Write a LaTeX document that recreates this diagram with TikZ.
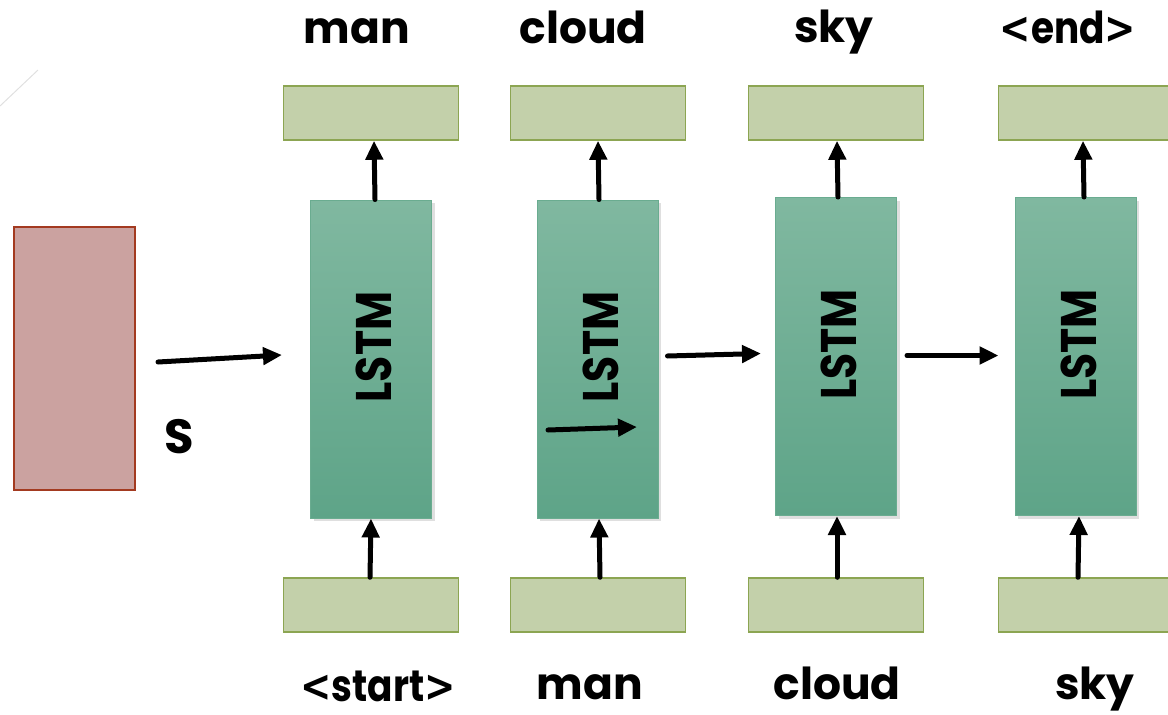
\documentclass[tikz,border=0pt]{standalone}
\usepackage{fontspec}
\setmainfont{Poppins}
\newfontfamily\anglefont{DejaVu Sans}
\usetikzlibrary{arrows.meta,shadows,calc}
\definecolor{lstmtop}{HTML}{80B8A0}
\definecolor{lstmbot}{HTML}{5EA488}
\definecolor{lstmedge}{HTML}{6AAC90}
\definecolor{wordfill}{HTML}{C3D0AA}
\definecolor{wordedge}{HTML}{8CA552}
\definecolor{imgfill}{HTML}{CBA2A0}
\definecolor{imgedge}{HTML}{A33A20}
% angle brackets in a font with plain < > glyphs
\newcommand{\langl}{{\anglefont\bfseries<}}
\newcommand{\rangl}{{\anglefont\bfseries>}}
\tikzset{
  lstm/.style={draw=lstmedge, line width=1pt, top color=lstmtop, bottom color=lstmbot,
    minimum width=121pt, minimum height=318pt, inner sep=0pt,
    drop shadow={shadow xshift=3pt, shadow yshift=-3pt, fill=black!25, opacity=0.5}},
  wordbox/.style={draw=wordedge, line width=1.5pt, fill=wordfill,
    minimum width=175pt, minimum height=54pt, inner sep=0pt},
  imgbox/.style={draw=imgedge, line width=1.5pt, fill=imgfill,
    minimum width=121pt, minimum height=263pt, inner sep=0pt},
  word/.style={font=\fontsize{44}{46}\selectfont\bfseries, inner sep=0pt},
  flow/.style={line width=5pt, line cap=round, -{Triangle[length=19pt,width=17pt]}},
  cell/.style={font=\fontsize{50}{52}\selectfont\bfseries, rotate=90, inner sep=0pt}
}
\begin{document}
\begin{tikzpicture}[x=1pt,y=-1pt]
\useasboundingbox (0,0) rectangle (1168,715);
% faint stroke near the corner
\draw[black!12, line width=1pt] (0,106) -- (38,70);

% image feature block
\node[imgbox] (img) at (74.5,358.5) {};
\node[word, font=\fontsize{48}{50}\selectfont\bfseries] (s) at (179,437) {S};

% LSTM cells
\node[lstm] (c1) at (371,359) {};
\node[lstm] (c2) at (597.5,359) {};
\node[lstm] (c3) at (836,356.5) {};
\node[lstm] (c4) at (1075.5,356.5) {};
\foreach \i in {1,...,4} {\node[cell] at ($(c\i.center)+(3,-12)$) {\scalebox{0.85}[1]{LSTM}};}

% output word boxes
\node[wordbox] (o1) at (371,113) {};
\node[wordbox] (o2) at (598,113) {};
\node[wordbox] (o3) at (836,113) {};
\node[wordbox] (o4) at (1086,113) {};
% input word boxes
\node[wordbox] (i1) at (371,605) {};
\node[wordbox] (i2) at (598,605) {};
\node[wordbox] (i3) at (836,605) {};
\node[wordbox] (i4) at (1086,605) {};

% output labels
\node[word] (t1) at (357,31) {man};
\node[word] (t2) at (583,27) {cloud};
\node[word] (t3) at (834,32) {sky};
\node[word] (t4) at (1068,27) {\scalebox{0.85}[1]{\langl end\rangl}};
% input labels
\node[word] (b1) at (378,686) {\scalebox{0.85}[1]{\langl start\rangl}};
\node[word] (b2) at (590,687) {man};
\node[word] (b3) at (837,683) {cloud};
\node[word] (b4) at (1095,689) {sky};

% connectors
\coordinate (sa) at (158,362);
\coordinate (sb) at (282,355);
\draw[flow] (sa) -- (sb);

\draw[flow] (c1.north -| 375,0) -- (o1.south -| 374,0);
\draw[flow] (c2.north -| 599,0) -- (o2.south -| 598,0);
\draw[flow] (c3.north -| 838,0) -- (o3.south -| 837,0);
\draw[flow] (c4.north -| 1084,0) -- (o4.south -| 1083,0);

\draw[flow] (i1.north -| 370,0) -- (c1.south -| 371,0);
\draw[flow] (i2.north -| 600,0) -- (c2.south -| 599,0);
\draw[flow] (i3.north -| 837,0) -- (c3.south -| 837,0);
\draw[flow] (i4.north -| 1078,0) -- (c4.south -| 1079,0);

\draw[flow] ($(c2.east)+(9,-3)$) -- ($(c3.west)+(-14,-3)$);
\draw[flow] ($(c3.east)+(10,-1)$) -- ($(c4.west)+(-16,-1)$);

% arrow drawn inside the second cell
\coordinate (ia) at (548,430);
\coordinate (ib) at (637,427);
\draw[flow] (ia) -- (ib);
\end{tikzpicture}
\end{document}
